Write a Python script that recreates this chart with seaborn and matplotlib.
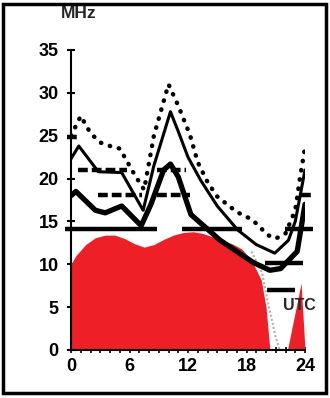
"""
MUF / LUF propagation chart (MHz vs UTC)
"""

import numpy as np
import pandas as pd
import matplotlib
matplotlib.use('Agg')
import matplotlib.pyplot as plt
from matplotlib.patches import Rectangle
import seaborn as sns

sns.set_theme(style='white')
plt.rcParams['font.family'] = ['Liberation Sans', 'DejaVu Sans']
plt.rcParams['font.weight'] = 'bold'

# upper dotted curve
dot_hours = [0, 1, 2, 3, 4, 5, 6, 6.5, 7.5, 8.5, 10, 11, 12.2, 13, 14, 15, 17, 18.6, 20.2, 21, 22, 23, 23.5, 24]
dot_mhz = [25.0, 27.3, 25.3, 24.2, 23.8, 23.5, 21.5, 20.5, 18.7, 25.0, 31.0, 28.5, 25.1, 21.9, 19.6, 17.9, 16.1, 15.2, 13.4, 13.0, 13.6, 16.3, 20.2, 23.6]

# thin solid curve
thin_hours = [0, 0.8, 2.8, 5.2, 7.4, 8.5, 10.2, 11, 12, 13.3, 15, 17.1, 19, 20.9, 22.3, 23, 24]
thin_mhz = [22.3, 23.8, 20.8, 20.7, 16.3, 21.5, 27.8, 25.5, 22.5, 19.8, 16.8, 14.0, 12.3, 11.3, 12.8, 15.0, 21.0]

# thick solid curve
thick_hours = [0, 0.5, 2.5, 3.5, 5.2, 7.2, 8.2, 9.5, 10.2, 11, 12.3, 15.3, 18.7, 20.4, 21.5, 23.2, 24]
thick_mhz = [18.0, 18.5, 16.3, 16.0, 16.8, 14.5, 17.0, 21.0, 21.7, 20.2, 15.8, 12.8, 10.2, 9.3, 9.5, 11.5, 17.0]

# red area
red_hours = [0, 0.5, 1.5, 2.5, 3.5, 4.5, 5.5, 6.5, 7.5, 8.5, 9.5, 10.5, 11.5, 12.5, 13.5, 14.5,
             15.5, 16.5, 17.5, 18.5, 19.5, 20.0, 20.4, 22.2, 23.6, 24.0]
red_mhz = [10.0, 11.0, 12.3, 13.1, 13.4, 13.4, 13.0, 12.4, 12.0, 12.3, 12.9, 13.4, 13.7, 13.8, 13.6, 13.2,
           12.8, 12.4, 11.8, 10.5, 8.2, 5.0, 0.0, 0.0, 7.8, 0.0]

# band openings: frequency, start hour, end hour
solid_mhz = [14.1, 14.1, 14.1, 10.1, 7.0]
solid_start = [-0.6, 11.4, 21.9, 19.9, 20.1]
solid_end = [8.8, 17.5, 24.8, 23.8, 23.0]
dash_mhz = [24.9, 21.0, 21.0, 18.1, 18.1, 18.1]
dash_start = [-0.4, 0.7, 8.8, 2.8, 8.8, 23.6]
dash_end = [0.9, 5.7, 11.8, 7.3, 12.2, 24.6]

# grey edge left by the scan
grey_hours = [18.5, 19.6, 20.3, 21.0, 21.4]
grey_mhz = [11.5, 9.0, 5.0, 1.5, 0.0]

y_ticks = [0, 5, 10, 15, 20, 25, 30, 35]
x_labels = [0, 6, 12, 18, 24]

fig = plt.figure(figsize=(3.3, 3.98), dpi=100)
ax = fig.add_axes([71 / 330, 48 / 398, 234 / 330, 300 / 398])

ax.fill_between(red_hours, red_mhz, 0, color='#ee1f26', linewidth=0, zorder=1)
ax.plot(grey_hours, grey_mhz, color='#b0b0b0', linewidth=1.5, linestyle=(0, (1, 1)), zorder=1.5)

solid_bands = pd.DataFrame({'mhz': solid_mhz, 'start': solid_start, 'end': solid_end})
dash_bands = pd.DataFrame({'mhz': dash_mhz, 'start': dash_start, 'end': dash_end})
ax.hlines(solid_bands['mhz'], solid_bands['start'], solid_bands['end'], color='black',
          linewidth=3.2, zorder=3, clip_on=False)
ax.hlines(dash_bands['mhz'], dash_bands['start'], dash_bands['end'], color='black',
          linewidth=3.2, linestyles=[(0, (2.2, 0.9))], zorder=3, clip_on=False)

df_dot = pd.DataFrame({'UTC': dot_hours, 'MHz': dot_mhz})
df_thin = pd.DataFrame({'UTC': thin_hours, 'MHz': thin_mhz})
df_thick = pd.DataFrame({'UTC': thick_hours, 'MHz': thick_mhz})

sns.lineplot(data=df_dot, x='UTC', y='MHz', ax=ax, color='black', linewidth=3.2,
             linestyle=(0, (0.1, 2.0)), dash_capstyle='round', zorder=4)
sns.lineplot(data=df_thin, x='UTC', y='MHz', ax=ax, color='black', linewidth=2.2, zorder=4)
sns.lineplot(data=df_thick, x='UTC', y='MHz', ax=ax, color='black', linewidth=3.8, zorder=4)

ax.set_xlim(0, 24)
ax.set_ylim(0, 35)
ax.set_xlabel('')
ax.set_ylabel('')
for side in ['top', 'right']:
    ax.spines[side].set_visible(False)
for side in ['left', 'bottom']:
    ax.spines[side].set_color('black')
    ax.spines[side].set_linewidth(1.5)
    ax.spines[side].set_zorder(5)

ax.set_yticks(y_ticks)
ax.set_yticklabels([str(v) for v in y_ticks], fontsize=13, fontweight='bold')
ax.set_xticks(range(0, 25))
ax.set_xticklabels([str(h) if h in x_labels else '' for h in range(0, 25)],
                   fontsize=13, fontweight='bold')
ax.tick_params(axis='y', direction='inout', length=6, width=1.5, pad=6, left=True, colors='black')
ax.tick_params(axis='x', direction='inout', length=5, width=1.2, pad=3, bottom=True, colors='black')

ax.text(0.8, 39.2, 'MHz', fontsize=12.5, fontweight='bold', ha='center', va='center',
        clip_on=False)
ax.text(23.4, 5.2, 'UTC', fontsize=11.5, fontweight='bold', ha='center', va='center', zorder=6,
        clip_on=False)

fig.patches.append(Rectangle((0.009, 0.012), 0.979, 0.978, transform=fig.transFigure,
                             fill=False, edgecolor='black', linewidth=2.5))

plt.savefig('out.png', dpi=100)
plt.close()
